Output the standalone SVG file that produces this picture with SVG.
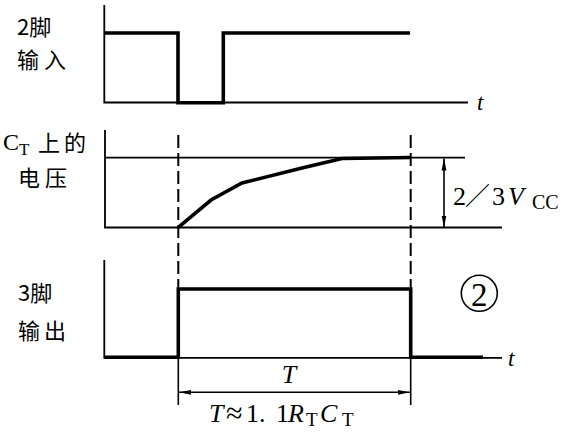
<svg xmlns="http://www.w3.org/2000/svg" width="567" height="433" viewBox="0 0 567 433">
<style>
.bg{fill:#fff}
.thin{fill:none;stroke:#000;stroke-width:1.8}
.thick{fill:none;stroke:#000;stroke-width:3.6;stroke-linejoin:miter;stroke-linecap:butt}
.dash{fill:none;stroke:#000;stroke-width:2;stroke-dasharray:13 5}
.ext{fill:none;stroke:#000;stroke-width:1.6}
.dim{fill:none;stroke:#000;stroke-width:1.6;marker-start:url(#ah);marker-end:url(#ah)}
.cjk{font-family:"Noto Sans CJK SC","Noto Sans",sans-serif;font-size:22px;fill:#000}
.ser{font-family:"Liberation Serif","Noto Sans CJK SC",serif;font-size:26px;fill:#000}
.it{font-style:italic}
.sub{font-size:19px}
.tl{font-size:23px}
</style>
<defs>
<marker id="ah" viewBox="0 0 12 6" refX="12" refY="3" markerWidth="12" markerHeight="6" markerUnits="userSpaceOnUse" orient="auto-start-reverse">
<path d="M0,0.6 L12,3 L0,5.4 Z" fill="#000"/>
</marker>
</defs>
<rect class="bg" x="0" y="0" width="567" height="433"/>

<g id="panel-input">
<path class="thin" d="M104.3,5 V102.5 H468"/>
<path class="thick" d="M104.3,33 H178 V102.8 H223.3 V33 H410"/>
<text class="ser it tl" x="477" y="110">t</text>
<text class="cjk" x="17" y="35">2脚</text>
<text class="cjk" x="17" y="68" letter-spacing="5">输入</text>
</g>

<g id="panel-ct">
<path class="thin" d="M105,130 V227.5 H502"/>
<path class="thin" d="M105,157.7 H465"/>
<polyline class="thick" points="178.3,227.3 211,200 242,183 302,168 342,158.5 411,157.5"/>
<text class="ser" x="3" y="150" style="font-size:24px">C</text>
<text class="ser" x="19" y="155" style="font-size:17px">T</text>
<text class="cjk" x="38" y="151" letter-spacing="4">上的</text>
<text class="cjk" x="18" y="186" letter-spacing="5">电压</text>
<text class="ser" x="453" y="205">2</text>
<text class="ser" x="465" y="205" style="font-size:25px">／</text>
<text class="ser" x="492" y="205">3</text>
<text class="ser it" x="508" y="205">V</text>
<text class="ser" x="532" y="209" style="font-size:20px">CC</text>
</g>

<g id="panel-output">
<path class="thin" d="M104.3,260 V357.8 H502"/>
<path class="thick" d="M104.3,357.3 H178.3 V289 H410.7 V357.3 H483"/>
<text class="ser it tl" x="508" y="366">t</text>
<text class="cjk" x="18" y="301">3脚</text>
<text class="cjk" x="18" y="339" letter-spacing="4">输出</text>
<circle cx="479.3" cy="293.3" r="18" fill="none" stroke="#000" stroke-width="1.6"/>
<text class="ser" x="479.3" y="305.5" text-anchor="middle" style="font-size:33px">2</text>
</g>

<g id="connectors">
<path class="dash" d="M178.3,135 V289"/>
<path class="dash" d="M410.7,135 V289"/>
<path class="ext" d="M178.3,358 V405"/>
<path class="ext" d="M410.7,358 V405"/>
<path class="dim" d="M444,158.5 V227.5"/>
<path class="dim" d="M179,392.3 H410"/>
</g>

<g id="labels-T">
<text class="ser it" x="289" y="383" text-anchor="middle">T</text>
<text class="ser it" x="209" y="422">T</text>
<text class="ser" x="226" y="423" style="font-size:30px">≈</text>
<text class="ser" x="246" y="422">1.</text>
<text class="ser" x="276" y="422">1</text>
<text class="ser it" x="288" y="422">R</text>
<text class="ser sub" x="306" y="426">T</text>
<text class="ser it" x="320" y="422">C</text>
<text class="ser sub" x="342" y="426">T</text>
</g>
</svg>
